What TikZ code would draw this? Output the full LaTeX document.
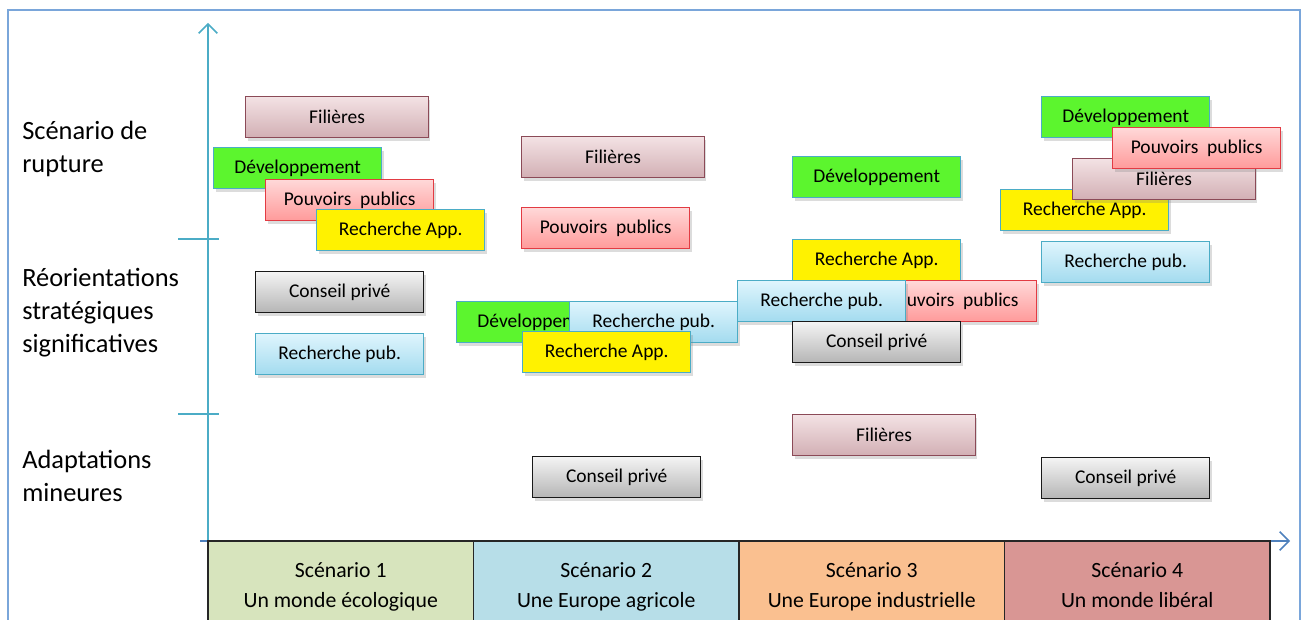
\documentclass[tikz,border=0pt]{standalone}
\usepackage{fontspec}
\setmainfont{Carlito}
\usetikzlibrary{arrows.meta,shadows}

\definecolor{axisteal}{HTML}{4BACC6}
\definecolor{axisblue}{HTML}{4F81BD}
\definecolor{frameblue}{HTML}{7AA6DA}
\definecolor{filborder}{HTML}{8B4A57}
\definecolor{filtop}{HTML}{F3E2E4}
\definecolor{filbot}{HTML}{D2AFB4}
\definecolor{devfill}{HTML}{5CF52E}
\definecolor{ppborder}{HTML}{E23B43}
\definecolor{pptop}{HTML}{FFD8D8}
\definecolor{ppbot}{HTML}{FF9A9A}
\definecolor{cptop}{HTML}{F4F4F4}
\definecolor{cpbot}{HTML}{B5B5B5}
\definecolor{rpubtop}{HTML}{DFF5FD}
\definecolor{rpubbot}{HTML}{A3DBEF}
\definecolor{scenone}{HTML}{D7E4BD}
\definecolor{scentwo}{HTML}{B7DEE8}
\definecolor{scenthree}{HTML}{FAC090}
\definecolor{scenfour}{HTML}{D99694}

\tikzset{
  card/.style={rectangle, anchor=north west, minimum width=126pt, minimum height=30.75pt,
    inner sep=0pt, line width=1.1pt, font=\fontsize{14.6}{17}\selectfont,
    drop shadow={shadow xshift=1.5pt, shadow yshift=-2.2pt, opacity=0.28}},
  filiere/.style={card, minimum width=137pt, draw=filborder, top color=filtop, bottom color=filbot},
  devbox/.style={card, draw=axisteal, fill=devfill},
  ppbox/.style={card, draw=ppborder, top color=pptop, bottom color=ppbot},
  rappbox/.style={card, draw=axisteal, fill=yellow},
  cpbox/.style={card, draw=black!90, top color=cptop, bottom color=cpbot},
  rpubbox/.style={card, draw=axisteal, top color=rpubtop, bottom color=rpubbot},
  levellabel/.style={anchor=west, align=left, inner sep=0pt, font=\fontsize{19.8}{24.75}\selectfont},
  scencell/.style={rectangle, anchor=north west, draw=black!85, line width=1.1pt, minimum width=199.1pt,
    minimum height=67.5pt, inner sep=0pt, outer sep=0pt, align=center, font=\fontsize{16.3}{22.5}\selectfont},
  axisline/.style={line width=1.1pt, -{Straight Barb[length=7pt,width=14pt,line width=1.1pt]}},
}

\begin{document}
\begin{tikzpicture}[x=0.75pt,y=0.75pt,yscale=-1,xscale=1]
\useasboundingbox (0,0) rectangle (1304,620);

% outer frame
\draw[frameblue, line width=1.1pt] (8,10) rectangle (1300,660);

% axes and level ticks
\coordinate (origin) at (208,541);
\coordinate (ytip) at (208,23);
\coordinate (xstart) at (200,541);
\coordinate (xtip) at (1290,541);
\draw[axisline, axisteal] (origin) -- (ytip);
\draw[axisline, axisblue] (xstart) -- (xtip);
\coordinate (tickA0) at (178,239);
\coordinate (tickA1) at (219,239);
\coordinate (tickB0) at (178,414);
\coordinate (tickB1) at (219,414);
\draw[axisteal, line width=1.1pt] (tickA0) -- (tickA1);
\draw[axisteal, line width=1.1pt] (tickB0) -- (tickB1);

% level labels
\node (lblRupture) [levellabel] at (22,149) {Scénario de\\rupture};
\node (lblReorient) [levellabel] at (22,313) {Réorientations\\stratégiques\\significatives};
\node (lblAdapt) [levellabel] at (22,476) {Adaptations\\mineures};

% scenario cells
\node (scen1) [scencell, fill=scenone] at (208,541) {Scénario 1\strut\\Un monde écologique\strut};
\node (scen2) [scencell, fill=scentwo] at (473.5,541) {Scénario 2\strut\\Une Europe agricole\strut};
\node (scen3) [scencell, fill=scenthree] at (739,541) {Scénario 3\strut\\Une Europe industrielle\strut};
\node (scen4) [scencell, fill=scenfour] at (1004.5,541) {Scénario 4\strut\\Un monde libéral\strut};

% Scenario 1
\node (fil1) [filiere] at (245,96) {Filières};
\node (dev1) [devbox] at (213,147) {Développement};
\node (pp1) [ppbox] at (265,179) {Pouvoirs\ \ publics};
\node (rapp1) [rappbox] at (316,209) {Recherche App.};
\node (cp1) [cpbox] at (255,271) {Conseil privé};
\node (rpub1) [rpubbox] at (255,333) {Recherche pub.};

% Scenario 2
\node (fil2) [filiere] at (521,136) {Filières};
\node (pp2) [ppbox] at (521,207) {Pouvoirs\ \ publics};
\node (dev2) [devbox] at (456,301) {Développement};
\node (rpub2) [rpubbox] at (569,301) {Recherche pub.};
\node (rapp2) [rappbox] at (522,331) {Recherche App.};
\node (cp2) [cpbox] at (532,456) {Conseil privé};

% Scenario 3
\node (dev3) [devbox] at (792,156) {Développement};
\node (rapp3) [rappbox] at (792,239) {Recherche App.};
\node (pp3) [ppbox] at (868,280) {Pouvoirs\ \ publics};
\node (rpub3) [rpubbox] at (737,280) {Recherche pub.};
\node (cp3) [cpbox] at (792,321) {Conseil privé};
\node (fil3) [filiere] at (792,414) {Filières};

% Scenario 4
\node (rapp4) [rappbox] at (1000,189) {Recherche App.};
\node (fil4) [filiere] at (1072,158) {Filières};
\node (dev4) [devbox] at (1041,96) {Développement};
\node (pp4) [ppbox] at (1112,127) {Pouvoirs\ \ publics};
\node (rpub4) [rpubbox] at (1041,241) {Recherche pub.};
\node (cp4) [cpbox] at (1041,457) {Conseil privé};

\end{tikzpicture}
\end{document}
